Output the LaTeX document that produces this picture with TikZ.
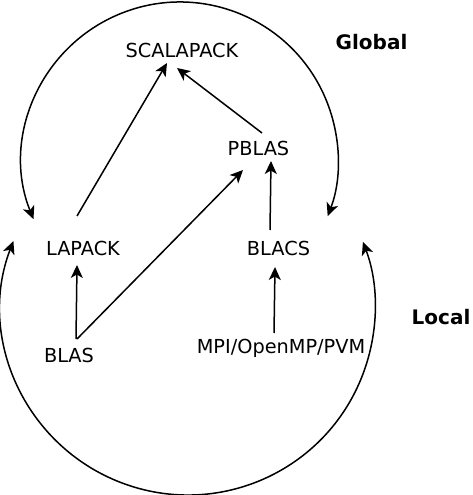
\documentclass[tikz,border=0pt]{standalone}
\usepackage{fontspec}
\setmainfont{DejaVu Sans}
\usepackage{tikz}
\usetikzlibrary{arrows.meta,calc}

\begin{document}
\begin{tikzpicture}[
    x=1pt, y=-1pt,
    lib/.style={inner sep=0pt, text height=14pt, text depth=0pt, font=\fontsize{19.3}{22}\selectfont},
    level/.style={inner sep=0pt, font=\fontsize{20}{24}\selectfont\bfseries},
    tip/.tip={Stealth[length=13pt, width=12pt, inset=3.5pt]},
    arrow/.style={-tip, line width=1.5pt},
    twoway/.style={tip-tip, line width=1.5pt},
  ]
  \useasboundingbox (0,0) rectangle (472,495);

  % Global level
  \node[lib] (scalapack) at (182,50.5) {SCALAPACK};
  \node[lib] (pblas) at (258.5,148.5) {PBLAS};
  \node[level] (global) at (371.5,42) {Global};

  % Local level
  \node[lib] (lapack) at (83,248.5) {LAPACK};
  \node[lib] (blacs) at (278.5,248.5) {BLACS};
  \node[lib] (blas) at (69,355) {BLAS};
  \node[lib] (mpi) at (281,346.5) {MPI/OpenMP/PVM};
  \node[level] (local) at (441,317) {Local};

  % Arcs
  \draw[twoway] (180,160) ++(158:158) arc (158:380.8:158);
  \draw[twoway] (188,308) ++(201:187) arc (201:-20.7:187);

  % Arrows
  \draw[arrow] ($(lapack)+(-6,-32.5)$) -- ($(scalapack)+(-15,12.5)$);
  \draw[arrow] ($(pblas)+(3.5,-15.5)$) -- ($(scalapack)+(-5,17.5)$);
  \draw[arrow] ($(blacs)+(-8.5,-18.5)$) -- ($(pblas)+(12.5,12.5)$);
  \draw[arrow] ($(blas)+(8,-16)$) -- ($(pblas)+(-15.5,21.5)$);
  \draw[arrow] ($(blas)+(7,-16)$) -- ($(lapack)+(-6,16.5)$);
  \draw[arrow] ($(mpi)+(-7,-13.5)$) -- ($(blacs)+(-3.5,18.5)$);
\end{tikzpicture}
\end{document}
